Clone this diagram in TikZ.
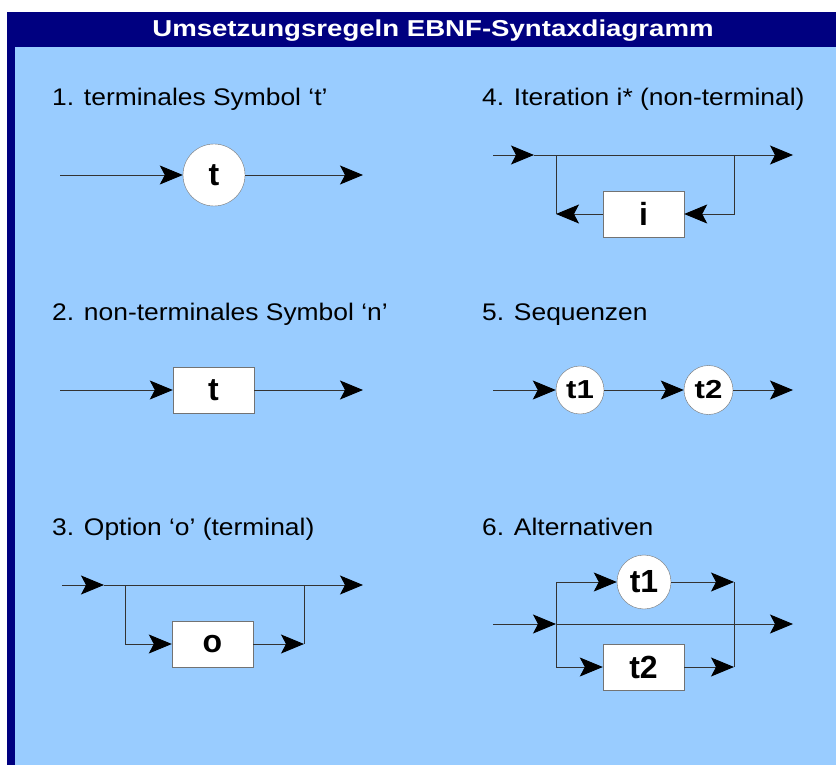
\documentclass[tikz,border=0pt]{standalone}
\usepackage{fontspec}
\setmainfont{Liberation Sans}
\newfontfamily\widefont[FakeStretch=1.1]{Liberation Sans}
\newfontfamily\titlefont[FakeStretch=1.2]{Liberation Sans}
\usetikzlibrary{arrows.meta}
\definecolor{navy}{HTML}{000080}
\definecolor{sky}{HTML}{99CCFF}

\begin{document}
\begin{tikzpicture}[x=1pt,y=-1pt,
  flow/.style={draw=black!80,line width=.9pt,-{Stealth[length=23pt,width=19pt,inset=5pt,black]}},
  wire/.style={draw=black!80,line width=.9pt},
  term/.style={circle,draw=black!55,fill=white,inner sep=0pt,font=\bfseries\fontsize{32}{32}\selectfont},
  nonterm/.style={rectangle,draw=black!55,fill=white,minimum width=81pt,minimum height=46pt,inner sep=0pt,font=\bfseries\fontsize{32}{32}\selectfont},
  heading/.style={anchor=base west,inner sep=0pt,font=\widefont\fontsize{24}{28}\selectfont}]
  \useasboundingbox (0,0) rectangle (836,765);
  \fill[white] (0,0) rectangle (836,765);
  \fill[navy] (7,12) rectangle (836,765);
  \fill[sky] (15,47) rectangle (836,765);
  \node[anchor=base,inner sep=0pt,text=white,font=\titlefont\bfseries\fontsize{23}{27}\selectfont] (title) at (433,37) {Umsetzungsregeln EBNF-Syntaxdiagramm};

  % headings
  \node[heading] (h1) at (52,106) {1. terminales Symbol ‘t’};
  \node[heading] (h2) at (52,320) {2. non-terminales Symbol ‘n’};
  \node[heading] (h3) at (52,535) {3. Option ‘o’ (terminal)};
  \node[heading] (h4) at (482,106) {4. Iteration i* (non-terminal)};
  \node[heading] (h5) at (482,320) {5. Sequenzen};
  \node[heading] (h6) at (482,535) {6. Alternativen};

  % 1. terminal
  \node[term,minimum size=62pt] (t) at (214,175) {t};
  \coordinate (in1) at (60,175);
  \coordinate (out1) at (363,175);
  \draw[flow] (in1) -- (t);
  \draw[flow] (t) -- (out1);

  % 2. non-terminal
  \node[nonterm] (n) at (213.5,390) {t};
  \coordinate (in2) at (60,390);
  \coordinate (out2) at (363,390);
  \draw[flow] (in2) -- (n);
  \draw[flow] (n) -- (out2);

  % 3. option
  \node[nonterm] (o) at (212.5,644) {o};
  \coordinate (in3) at (62,585);
  \coordinate (m3) at (104,585);
  \coordinate (out3) at (363,585);
  \coordinate (l3) at (125,585);
  \coordinate (r3) at (304,585);
  \coordinate (e3) at (304,644);
  \draw[flow] (in3) -- (m3);
  \draw[flow] (m3) -- (out3);
  \draw[flow] (l3) |- (o);
  \draw[flow] (o) -- (e3);
  \draw[wire] (e3) -- (r3);

  % 4. iteration
  \node[nonterm] (i) at (643.5,214) {i};
  \coordinate (in4) at (493,155);
  \coordinate (m4) at (534,155);
  \coordinate (out4) at (793,155);
  \coordinate (l4) at (556,155);
  \coordinate (r4) at (734,155);
  \coordinate (e4) at (556,214);
  \draw[flow] (in4) -- (m4);
  \draw[flow] (m4) -- (out4);
  \draw[flow] (r4) |- (i);
  \draw[flow] (i) -- (e4);
  \draw[wire] (e4) -- (l4);

  % 5. sequence
  \node[term,minimum size=48pt,font=\titlefont\bfseries\fontsize{26}{26}\selectfont] (s1) at (580,390) {t1};
  \node[term,minimum size=49pt,font=\titlefont\bfseries\fontsize{26}{26}\selectfont] (s2) at (708.5,390) {t2};
  \coordinate (in5) at (493,390);
  \coordinate (out5) at (793,390);
  \draw[flow] (in5) -- (s1);
  \draw[flow] (s1) -- (s2);
  \draw[flow] (s2) -- (out5);

  % 6. alternatives
  \node[term,minimum size=54pt] (a1) at (644,582) {t1};
  \node[nonterm] (a2) at (643.5,667) {t2};
  \coordinate (in6) at (493,624);
  \coordinate (l6) at (556,624);
  \coordinate (out6) at (793,624);
  \coordinate (e6a) at (734,582);
  \coordinate (e6b) at (734,667);
  \draw[flow] (in6) -- (l6);
  \draw[flow] (l6) -- (out6);
  \draw[flow] (l6) |- (a1);
  \draw[flow] (l6) |- (a2);
  \draw[flow] (a1) -- (e6a);
  \draw[flow] (a2) -- (e6b);
  \draw[wire] (e6a) -- (e6b);
\end{tikzpicture}
\end{document}
